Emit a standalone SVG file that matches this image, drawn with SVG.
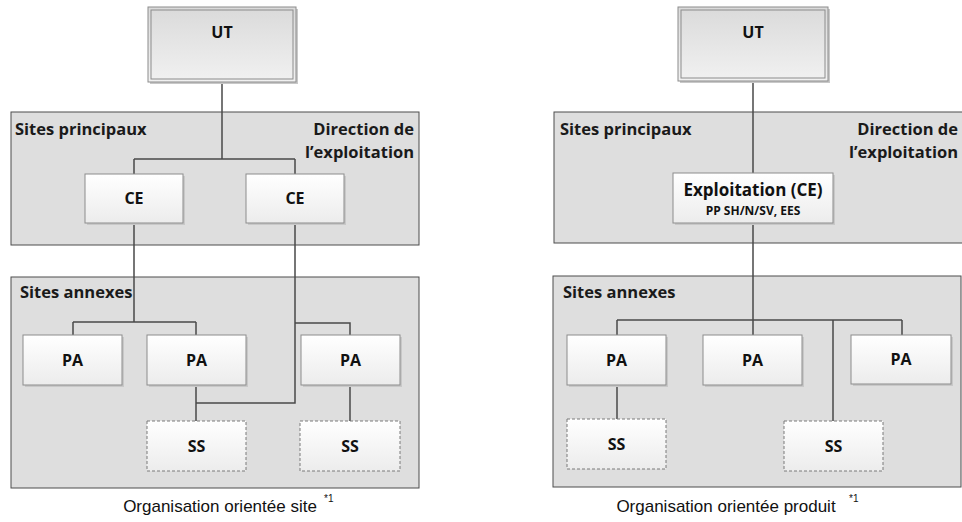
<svg xmlns="http://www.w3.org/2000/svg" width="962" height="522" viewBox="0 0 962 522">
<defs>
<linearGradient id="gBox" x1="0" y1="0" x2="0" y2="1">
<stop offset="0" stop-color="#ffffff"/>
<stop offset="1" stop-color="#ececec"/>
</linearGradient>
<linearGradient id="gUT" x1="0" y1="0" x2="0" y2="1">
<stop offset="0" stop-color="#dadada"/>
<stop offset="1" stop-color="#f1f1f1"/>
</linearGradient>
<style>
.panel{fill:#dedede;stroke:#4d4d4d;stroke-width:1}
.box{fill:url(#gBox);stroke:#8c8c8c;stroke-width:1}
.ss{fill:url(#gBox);stroke:#7a7a7a;stroke-width:1;stroke-dasharray:3 2}
.shadow{fill:#c8c8c8}
.ut{fill:url(#gUT);stroke:#8c8c8c;stroke-width:1}
.con{fill:none;stroke:#4a4a4a;stroke-width:1.5}
.lbl{font-family:"Open Sans","Liberation Sans",sans-serif;font-weight:700;font-size:16.5px;fill:#1a1a1a}
.nt{font-family:"Open Sans","Liberation Sans",sans-serif;font-weight:700;font-size:16px;fill:#111;text-anchor:middle}
.cap{font-family:"Liberation Sans",Arial,sans-serif;font-size:17px;fill:#111;text-anchor:middle}
.sup{font-family:"Liberation Sans",Arial,sans-serif;font-size:10px;fill:#111}
</style>
</defs>

<!-- panels -->
<g id="panel-left-main"><rect class="panel" x="11" y="112" width="408" height="133"/>
<text class="lbl" x="15" y="135">Sites principaux</text>
<text class="lbl" x="414" y="135" text-anchor="end">Direction de</text>
<text class="lbl" x="414" y="158" text-anchor="end">l’exploitation</text></g>
<g id="panel-left-annex"><rect class="panel" x="11" y="277" width="408" height="211"/>
<text class="lbl" x="20" y="298">Sites annexes</text></g>
<g id="panel-right-main"><rect class="panel" x="554" y="112" width="410" height="131"/>
<text class="lbl" x="560" y="135">Sites principaux</text>
<text class="lbl" x="958" y="135" text-anchor="end">Direction de</text>
<text class="lbl" x="958" y="158" text-anchor="end">l’exploitation</text></g>
<g id="panel-right-annex"><rect class="panel" x="553" y="276" width="408" height="211"/>
<text class="lbl" x="563" y="298">Sites annexes</text></g>

<!-- connectors -->
<g id="connectors">
<path class="con" d="M222 82V159M134 159H295M134 159V174M295 159V174"/>
<path class="con" d="M134 223V322M73 322H196M73 322V335M196 322V335"/>
<path class="con" d="M295 223V403H196M196 385V421M295 323H350V335M350 385V421"/>
<path class="con" d="M753 81V173M753 223V320M617 320H902M617 320V335M753 320V335M902 320V335M833 320V421M617 385V419"/>
</g>

<!-- left nodes -->
<g id="ut-left"><rect class="shadow" x="150" y="9" width="148" height="75"/><rect class="ut" x="148" y="7" width="148" height="75"/><rect x="151" y="10" width="142" height="69" fill="none" stroke="#8c8c8c"/><text class="nt" x="222" y="38">UT</text></g>
<g id="ce-left-1"><rect class="shadow" x="87" y="176" width="98" height="49"/><rect class="box" x="85" y="174" width="98" height="49"/><text class="nt" x="134" y="204">CE</text></g>
<g id="ce-left-2"><rect class="shadow" x="248" y="176" width="98" height="49"/><rect class="box" x="246" y="174" width="98" height="49"/><text class="nt" x="295" y="204">CE</text></g>
<g id="pa-left-1"><rect class="shadow" x="25" y="337" width="99" height="50"/><rect class="box" x="23" y="335" width="99" height="50"/><text class="nt" x="72.5" y="366">PA</text></g>
<g id="pa-left-2"><rect class="shadow" x="149" y="337" width="99" height="50"/><rect class="box" x="147" y="335" width="99" height="50"/><text class="nt" x="196.5" y="366">PA</text></g>
<g id="pa-left-3"><rect class="shadow" x="303" y="337" width="99" height="50"/><rect class="box" x="301" y="335" width="99" height="50"/><text class="nt" x="350.5" y="366">PA</text></g>
<g id="ss-left-1"><rect class="ss" x="147" y="421" width="99" height="50"/><text class="nt" x="196.5" y="452">SS</text></g>
<g id="ss-left-2"><rect class="ss" x="300" y="421" width="100" height="50"/><text class="nt" x="350" y="452">SS</text></g>

<!-- right nodes -->
<g id="ut-right"><rect class="shadow" x="680" y="9" width="150" height="74"/><rect class="ut" x="678" y="7" width="150" height="74"/><rect x="681" y="10" width="144" height="68" fill="none" stroke="#8c8c8c"/><text class="nt" x="753" y="38">UT</text></g>
<g id="ce-right"><rect class="shadow" x="675" y="175" width="160" height="50"/><rect class="box" x="673" y="173" width="160" height="50"/><text class="nt" x="753" y="196" style="font-size:17px">Exploitation (CE)</text><text class="nt" x="753" y="215" style="font-size:12px">PP SH/N/SV, EES</text></g>
<g id="pa-right-1"><rect class="shadow" x="569" y="337" width="99" height="50"/><rect class="box" x="567" y="335" width="99" height="50"/><text class="nt" x="616.5" y="366">PA</text></g>
<g id="pa-right-2"><rect class="shadow" x="705" y="337" width="99" height="50"/><rect class="box" x="703" y="335" width="99" height="50"/><text class="nt" x="752.5" y="366">PA</text></g>
<g id="pa-right-3"><rect class="shadow" x="853" y="337" width="100" height="49"/><rect class="box" x="851" y="335" width="100" height="49"/><text class="nt" x="901" y="365">PA</text></g>
<g id="ss-right-1"><rect class="ss" x="567" y="419" width="99" height="50"/><text class="nt" x="616.5" y="450">SS</text></g>
<g id="ss-right-2"><rect class="ss" x="784" y="421" width="99" height="50"/><text class="nt" x="833.5" y="452">SS</text></g>

<!-- captions -->
<g id="captions">
<text class="cap" x="220" y="512">Organisation orientée site</text>
<text class="sup" x="324" y="502">*1</text>
<text class="cap" x="726" y="512">Organisation orientée produit</text>
<text class="sup" x="849" y="502">*1</text>
</g>
</svg>
